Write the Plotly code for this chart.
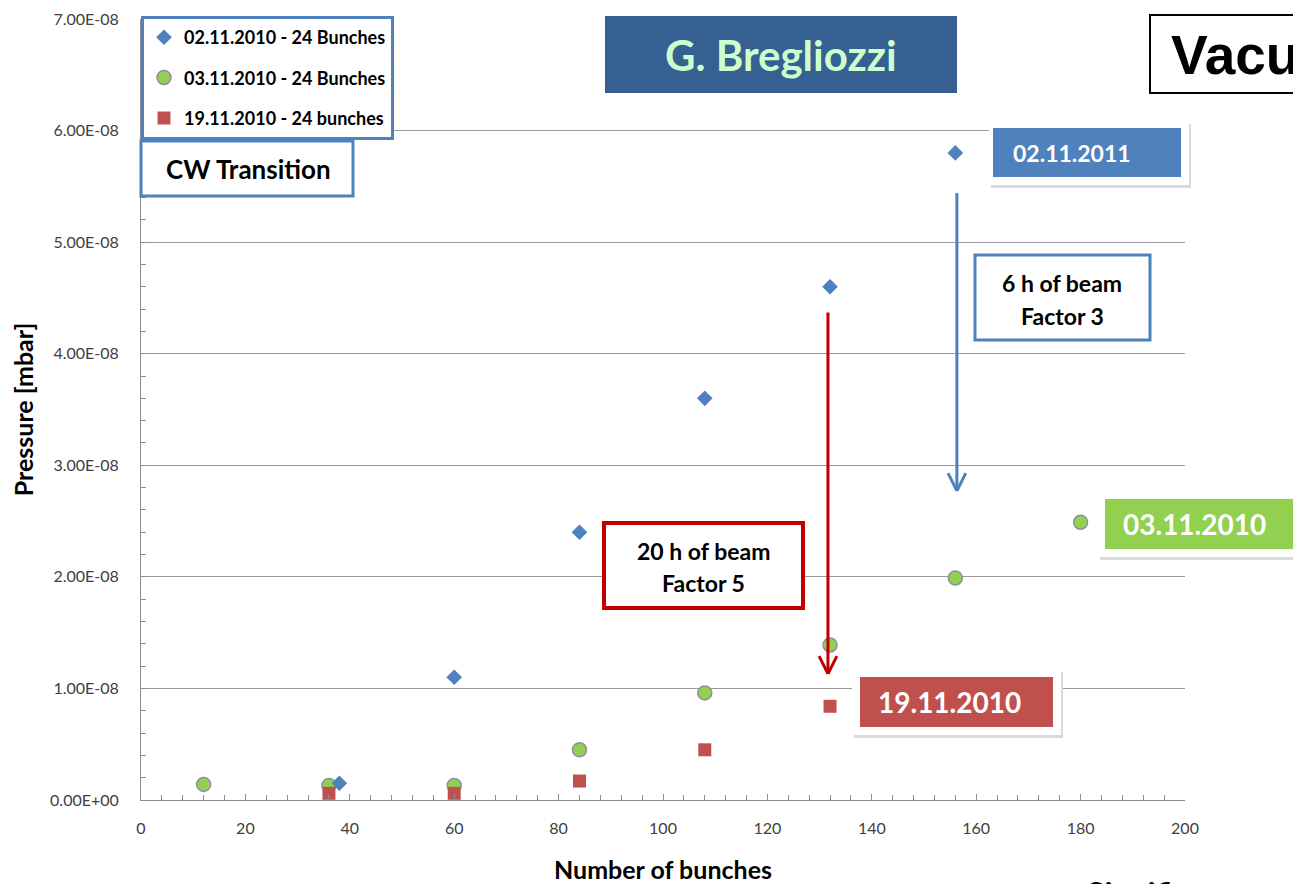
import plotly.graph_objects as go

# ---- data ----
bunches_0211 = [38, 60, 84, 108, 132, 156]
p_0211 = [0.15e-8, 1.10e-8, 2.40e-8, 3.60e-8, 4.60e-8, 5.80e-8]
bunches_0311 = [12, 36, 60, 84, 108, 132, 156, 180]
p_0311 = [0.14e-8, 0.13e-8, 0.13e-8, 0.45e-8, 0.96e-8, 1.39e-8, 1.99e-8, 2.49e-8]
bunches_1911 = [36, 60, 84, 108, 132]
p_1911 = [0.06e-8, 0.06e-8, 0.17e-8, 0.45e-8, 0.84e-8]
names = ["02.11.2010 - 24 Bunches", "03.11.2010 - 24 Bunches", "19.11.2010 - 24 bunches"]
y_tickvals = [0, 1e-8, 2e-8, 3e-8, 4e-8, 5e-8, 6e-8, 7e-8]
y_ticktext = ["0.00E+00", "1.00E-08", "2.00E-08", "3.00E-08", "4.00E-08", "5.00E-08", "6.00E-08", "7.00E-08"]
x_tickvals = [0, 20, 40, 60, 80, 100, 120, 140, 160, 180, 200]

W, H = 1293, 884
L, R, T, B = 141, 108, 19, 84
PW, PH = W - L - R, H - T - B
FONT = "Lato, Calibri, 'Open Sans', sans-serif"

def px(x):  # page pixel -> paper
    return (x - L) / PW

def py(y):
    return (H - B - y) / PH

BLUE = "#4F81BD"
GREEN = "#92D050"
RED = "#C0504D"

fig = go.Figure()
fig.add_trace(go.Scatter(x=bunches_0311, y=p_0311, mode="markers", name=names[1], legendrank=2,
                         legendgroup="b",
                         marker=dict(symbol="circle", size=14, color=GREEN, line=dict(color="#8B8FA8", width=1.5))))
fig.add_trace(go.Scatter(x=bunches_0211, y=p_0211, mode="markers", name=names[0], legendrank=1,
                         legendgroup="a",
                         marker=dict(symbol="diamond", size=12, color=BLUE)))
fig.add_trace(go.Scatter(x=bunches_1911, y=p_1911, mode="markers", name=names[2], legendrank=3,
                         legendgroup="c",
                         marker=dict(symbol="square", size=13, color=RED)))

shapes = []
annotations = []

def box(x0, y0, x1, y1, fill="white", line=None, lw=0):
    shapes.append(dict(type="rect", xref="paper", yref="paper", x0=px(x0), x1=px(x1), y0=py(y0), y1=py(y1),
                       fillcolor=fill, line=dict(color=line or fill, width=lw), layer="above"))

def text(x, y, t, size, color="black", bold=True, xanchor="center", family=FONT):
    annotations.append(dict(xref="paper", yref="paper", x=px(x), y=py(y), text=(f"<b>{t}</b>" if bold else t),
                            showarrow=False, xanchor=xanchor, yanchor="middle",
                            font=dict(size=size, color=color, family=family)))

# CW Transition box
box(141, 141, 353, 196, "white", BLUE, 3)
text(248, 169, "CW Transition", 26)
# G. Bregliozzi
box(605, 16, 957, 93, "#376092")
text(781, 55, "G. Bregliozzi", 42, "#CCFFCC")
# Vacuum title box (cut at page edge)
box(1150, 15, 1310, 93, "white", "black", 2)
text(1169, 55, "Vacuum", 55, "black", True, "left", "'Liberation Sans', Arial, sans-serif")

# data label callouts with white frame + soft shadow
def callout(fx0, fy0, fx1, fy1, ix0, iy0, ix1, iy1, color, t, tx, size):
    box(fx0 + 2, fy0 + 3, fx1 + 2, fy1 + 3, "#DADADA")
    box(fx0, fy0, fx1, fy1, "white")
    box(ix0, iy0, ix1, iy1, color)
    text(tx, (iy0 + iy1) / 2, t, size, "white")

callout(989, 121, 1189, 185, 993, 128, 1181, 177, BLUE, "02.11.2011", 1072, 23)
callout(1098, 493, 1310, 557, 1105, 499, 1300, 549, GREEN, "03.11.2010", 1194, 28)
callout(852, 669, 1061, 735, 860, 677, 1053, 727, RED, "19.11.2010", 949, 28)

# comment boxes
box(975, 255, 1150, 340, "white", BLUE, 3)
text(1062, 283, "6 h of beam", 23)
text(1062, 316, "Factor 3", 23)
box(604, 523, 803, 608, "white", "#C00000", 4)
text(703, 551, "20 h of beam", 23)
text(703, 583, "Factor 5", 23)

# arrows (data coordinates)
def arrow(x, y_start, y_end, color):
    shapes.append(dict(type="line", xref="x", yref="y", x0=x, x1=x, y0=y_start, y1=y_end,
                       line=dict(color=color, width=3), layer="above"))
    dx, dy = 1.7, 0.16e-8
    for s in (-1, 1):
        shapes.append(dict(type="line", xref="x", yref="y", x0=x + s * dx, x1=x, y0=y_end + dy, y1=y_end,
                           line=dict(color=color, width=3), layer="above"))

arrow(156.3, 5.44e-8, 2.77e-8, BLUE)
arrow(131.6, 4.37e-8, 1.13e-8, "#C00000")

# bottom-right cut text
annotations.append(dict(xref="paper", yref="paper", x=px(1085), y=py(872), text="<b>Significant</b>",
                        showarrow=False, xanchor="left", yanchor="top",
                        font=dict(size=32, color="black", family=FONT)))

fig.update_layout(
    width=W, height=H,
    margin=dict(l=L, r=R, t=T, b=B, autoexpand=False),
    paper_bgcolor="white", plot_bgcolor="white",
    shapes=shapes, annotations=annotations,
    showlegend=True,
    legend=dict(x=px(141), y=py(16), xanchor="left", yanchor="top",
                bgcolor="white", bordercolor=BLUE, borderwidth=3,
                font=dict(family=FONT, size=18, color="black", weight="bold"),
                tracegroupgap=14, traceorder="grouped", itemwidth=30),
    font=dict(family=FONT),
)
fig.update_xaxes(range=[0, 200], tickvals=x_tickvals, showgrid=False, zeroline=False,
                 showline=True, linecolor="#8C8C8C", linewidth=1,
                 ticks="inside", ticklen=6, tickcolor="#8C8C8C",
                 minor=dict(dtick=4, ticks="inside", ticklen=5, tickcolor="#8C8C8C", showgrid=False),
                 tickfont=dict(size=16, color="#404040", family=FONT), ticklabelstandoff=14,
                 title=dict(text="<b>Number of bunches</b>", font=dict(size=25, color="black", family=FONT),
                            standoff=43))
fig.update_yaxes(range=[0, 7e-8], tickvals=y_tickvals, ticktext=y_ticktext, showgrid=True,
                 gridcolor="#9A9A9A", gridwidth=1, zeroline=False,
                 showline=True, linecolor="#8C8C8C", linewidth=1,
                 ticks="inside", ticklen=6, tickcolor="#8C8C8C",
                 minor=dict(dtick=0.2e-8, ticks="inside", ticklen=5, tickcolor="#8C8C8C", showgrid=False),
                 tickfont=dict(size=16, color="#404040", family=FONT), ticklabelstandoff=18,
                 title=dict(text="<b>Pressure [mbar]</b>", font=dict(size=25, color="black", family=FONT),
                            standoff=9))

fig.write_html("out.html", config={"displayModeBar": False},
               post_script="document.body.style.margin='0';document.body.style.overflow='hidden';")
